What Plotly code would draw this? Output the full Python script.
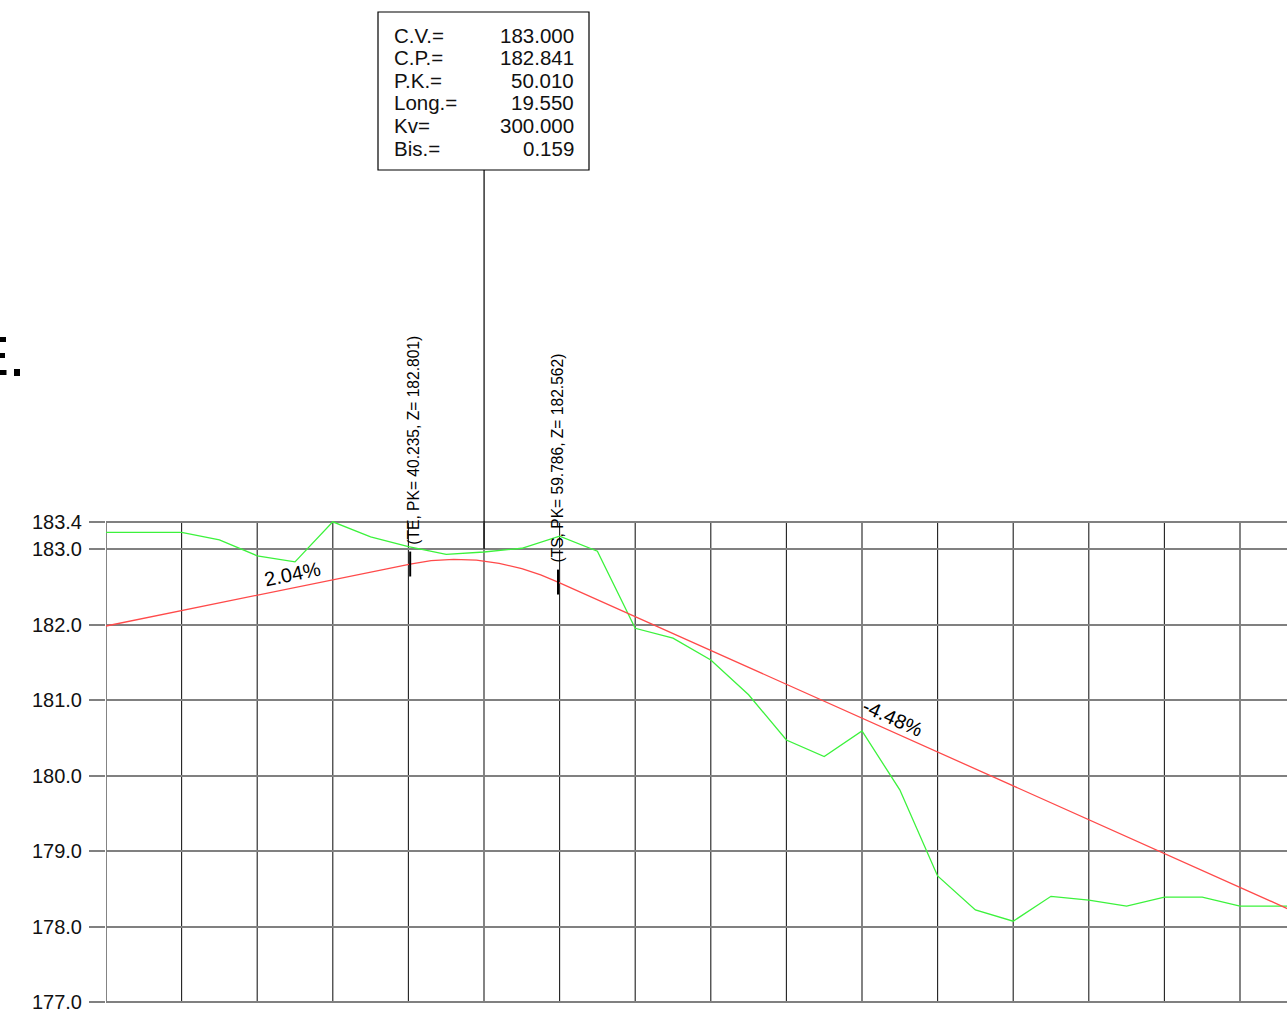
import plotly.graph_objects as go

# ---------------- data ----------------
terrain_pk = [0, 10, 15, 20, 25, 30, 35, 40, 45, 50, 55, 60, 65, 70, 75, 80, 85,
              90, 95, 100, 105, 110, 115, 120, 125, 130, 135, 140, 145, 150, 160]
terrain_z = [183.22, 183.22, 183.12, 182.91, 182.83, 183.36, 183.16, 183.03, 182.93,
             182.96, 183.01, 183.17, 182.97, 181.95, 181.82, 181.53, 181.07, 180.47,
             180.25, 180.59, 179.81, 178.67, 178.22, 178.07, 178.40, 178.35, 178.27,
             178.39, 178.39, 178.27, 178.27]

grade_pk = [0, 40.235, 43.0, 46.0, 49.0, 52.0, 55.0, 57.5, 59.786, 160]
grade_z = [181.98, 182.801, 182.845, 182.863, 182.852, 182.810, 182.739, 182.656, 182.562, 178.07]

y_ticks = [177.0, 178.0, 179.0, 180.0, 181.0, 182.0, 183.0, 183.36]
y_ticktext = ["177.0", "178.0", "179.0", "180.0", "181.0", "182.0", "183.0", "183.4"]
grid_pk = [0, 10, 20, 30, 40, 50, 60, 70, 80, 90, 100, 110, 120, 130, 140, 150]
grid_top = 183.36
grid_bottom = 177.0

te_pk, te_z = 40.235, 182.801
ts_pk, ts_z = 59.786, 182.562
vertex_pk, vertex_z = 50.010, 183.000
te_label = "(TE, PK= 40.235, Z= 182.801)"
ts_label = "(TS, PK= 59.786, Z= 182.562)"

slope_labels = ["2.04%", "-4.48%"]
slope_label_pk = [24.7, 104.1]
slope_label_z = [182.67, 180.76]
slope_label_angle = [-11.5, 24.1]

box_labels = ["C.V.=", "C.P.=", "P.K.=", "Long.=", "Kv=", "Bis.="]
box_values = ["183.000", "182.841", "50.010", "19.550", "300.000", "0.159"]

# ---------------- geometry ----------------
W, H = 1287, 1021
L = 106
PX_X = 7.56      # px per PK unit
PX_Y = 75.5      # px per metre
Y0PX = 1002      # pixel row of 177.0

x_range = [0, (W - L) / PX_X]
y_range = [177.0 - (H - Y0PX) / PX_Y, 177.0 + Y0PX / PX_Y]


def py2y(py):
    return 177.0 + (Y0PX - py) / PX_Y


def ppx(px):
    return (px - L) / (W - L)


def ppy(py):
    return 1 - py / H


FONT = "Liberation Sans, Arial, sans-serif"

fig = go.Figure()

fig.add_trace(go.Scatter(x=terrain_pk, y=terrain_z, mode="lines",
                         line=dict(color="#3cf23c", width=1.3), hoverinfo="skip",
                         showlegend=False))
fig.add_trace(go.Scatter(x=grade_pk, y=grade_z, mode="lines",
                         line=dict(color="#ff4a4a", width=1.3), hoverinfo="skip",
                         showlegend=False))

shapes = []
for pk in grid_pk:
    shapes.append(dict(type="line", xref="x", yref="y", x0=pk, x1=pk,
                       y0=grid_bottom, y1=grid_top, layer="below",
                       line=dict(color="#1e1e1e", width=1.1)))

# TE / TS ticks
for pk, z in [(te_pk, te_z), (ts_pk, ts_z)]:
    shapes.append(dict(type="line", xref="x", yref="y", x0=pk, x1=pk,
                       y0=z - 0.165, y1=z + 0.165,
                       line=dict(color="#000000", width=2)))

# vertex line up to the box
box_x0, box_x1, box_y0, box_y1 = 378, 589, 12, 170
shapes.append(dict(type="line", xref="x", yref="y", x0=vertex_pk, x1=vertex_pk,
                   y0=vertex_z, y1=py2y(box_y1),
                   line=dict(color="#000000", width=1.2)))
shapes.append(dict(type="rect", xref="paper", yref="paper",
                   x0=ppx(box_x0), x1=ppx(box_x1), y0=ppy(box_y1), y1=ppy(box_y0),
                   line=dict(color="#000000", width=1.2), fillcolor="white"))

# clipped marks at left edge
for (a, b, c, d) in [(0, 6, 337, 342), (0, 5, 353, 358), (0, 6.5, 370, 375), (14, 20, 369, 376)]:
    shapes.append(dict(type="rect", xref="paper", yref="paper",
                       x0=ppx(a), x1=ppx(b), y0=ppy(d), y1=ppy(c),
                       line=dict(width=0), fillcolor="#000000"))

annotations = []
row_y = [35, 57.6, 80.2, 102.8, 125.4, 148]
for lab, val, ry in zip(box_labels, box_values, row_y):
    annotations.append(dict(xref="paper", yref="paper", x=ppx(392), y=ppy(ry),
                            text=lab, showarrow=False, xanchor="left", yanchor="middle",
                            font=dict(family=FONT, size=20.5, color="#111")))
    annotations.append(dict(xref="paper", yref="paper", x=ppx(576), y=ppy(ry),
                            text=val, showarrow=False, xanchor="right", yanchor="middle",
                            font=dict(family=FONT, size=20.5, color="#111")))

for lab, pk, z, ang in zip(slope_labels, slope_label_pk, slope_label_z, slope_label_angle):
    annotations.append(dict(xref="x", yref="y", x=pk, y=z, text=lab, showarrow=False,
                            textangle=ang, xanchor="center", yanchor="middle",
                            font=dict(family=FONT, size=20, color="#000")))

for lab, pk, z, xs in [(te_label, te_pk, te_z, 2.5), (ts_label, ts_pk, ts_z, -0.5)]:
    annotations.append(dict(xref="x", yref="y", x=pk, y=z, text=lab, showarrow=False,
                            textangle=-90, xanchor="center", yanchor="middle",
                            xshift=xs, yshift=124,
                            font=dict(family=FONT, size=15.6, color="#000")))

fig.update_layout(
    width=W, height=H,
    margin=dict(l=L, r=0, t=0, b=0, pad=0),
    paper_bgcolor="white", plot_bgcolor="white",
    shapes=shapes, annotations=annotations,
    xaxis=dict(range=x_range, visible=False, fixedrange=True),
    yaxis=dict(range=y_range, tickvals=y_ticks, ticktext=y_ticktext,
               showgrid=True, gridcolor="#808080", gridwidth=1.6,
               ticks="outside", ticklen=16, tickcolor="#808080", tickwidth=1.6,
               ticklabelstandoff=3,
               zeroline=False, showline=False,
               tickfont=dict(family=FONT, size=20, color="#111")),
    font=dict(family=FONT),
)

fig.write_html("out.html",
               config={"displayModeBar": False},
               post_script="document.body.style.margin='0';document.body.style.overflow='hidden';")
